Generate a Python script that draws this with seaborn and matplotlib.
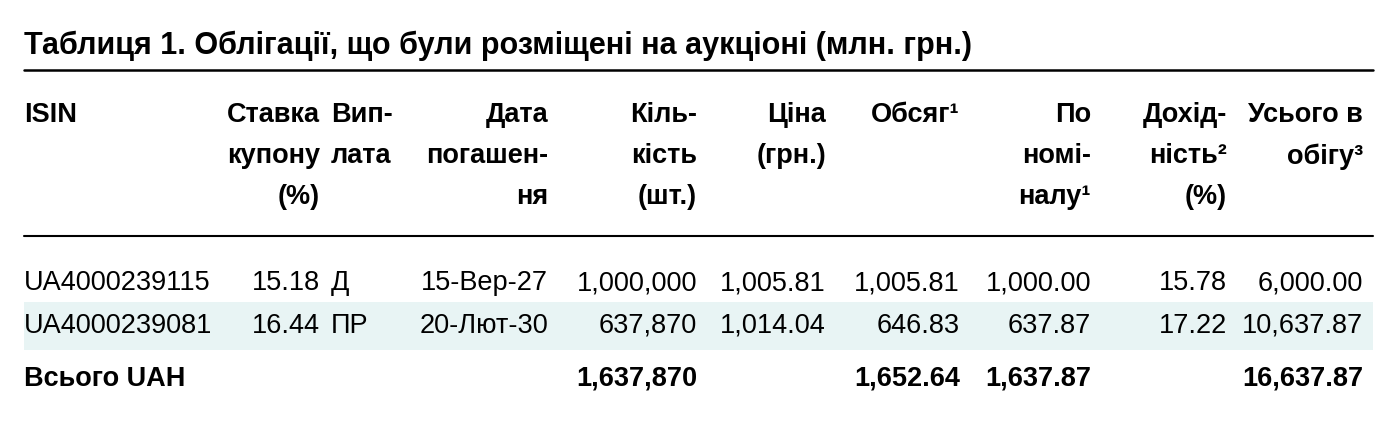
import numpy as np
import pandas as pd
import seaborn as sns
import matplotlib.pyplot as plt

sns.set_theme(style="white")
plt.rcParams['font.family'] = ['Liberation Sans Narrow', 'Liberation Sans', 'DejaVu Sans']
plt.rcParams['text.color'] = 'black'

title = "Таблиця 1. Облігації, що були розміщені на аукціоні (млн. грн.)"
headers = [
    "ISIN",
    "Ставка\nкупону\n(%)",
    "Вип-\nлата",
    "Дата\nпогашен-\nня",
    "Кіль-\nкість\n(шт.)",
    "Ціна\n(грн.)",
    "Обсяг¹",
    "По\nномі-\nналу¹",
    "Дохід-\nність²\n(%)",
    "Усього в\nобігу³",
]
isin = ["UA4000239115", "UA4000239081"]
rate = ["15.18", "16.44"]
payment = ["Д", "ПР"]
maturity = ["15-Вер-27", "20-Лют-30"]
quantity = ["1,000,000", "637,870"]
price = ["1,005.81", "1,014.04"]
volume = ["1,005.81", "646.83"]
nominal = ["1,000.00", "637.87"]
yield_ = ["15.78", "17.22"]
outstanding = ["6,000.00", "10,637.87"]
total = ["Всього UAH", "", "", "", "1,637,870", "", "1,652.64", "1,637.87", "", "16,637.87"]

df = pd.DataFrame({h: c for h, c in zip(headers, [isin, rate, payment, maturity, quantity,
                                                  price, volume, nominal, yield_, outstanding])})

# column anchor x (pixels) and alignment
col_x = [24, 320, 331, 548, 697, 826, 960, 1091, 1227, 1363]
col_ha = ["left", "right", "left", "right", "right", "right", "right", "right", "right", "right"]

fig = plt.figure(figsize=(13.97, 4.23), dpi=100)
ax = fig.add_axes([0, 0, 1, 1])
ax.set_xlim(0, 1397)
ax.set_ylim(423, 0)
ax.axis("off")

fs = 19.5
ax.text(24, 46, title, fontsize=22, fontweight="bold", va="center", ha="left")
ax.plot([24, 1373], [70, 70], color="black", lw=1.8)
ax.plot([24, 1373], [236, 236], color="black", lw=1.5)
ax.add_patch(plt.Rectangle((24, 302), 1349, 48, color="#e8f4f4", lw=0, zorder=0))

for x, ha, h in zip(col_x, col_ha, headers):
    ax.text(x, 102, h, fontsize=fs, fontweight="bold", ha=ha, va="top", linespacing=1.75)

for i, row in enumerate(df.itertuples(index=False)):
    y = 283 + i * 43
    for x, ha, v in zip(col_x, col_ha, row):
        ax.text(x, y, v, fontsize=fs, ha=ha, va="center")

for x, ha, v in zip(col_x, col_ha, total):
    ax.text(x, 379, v, fontsize=fs, fontweight="bold", ha=ha, va="center")

fig.savefig("out.png", dpi=100, facecolor="white")
